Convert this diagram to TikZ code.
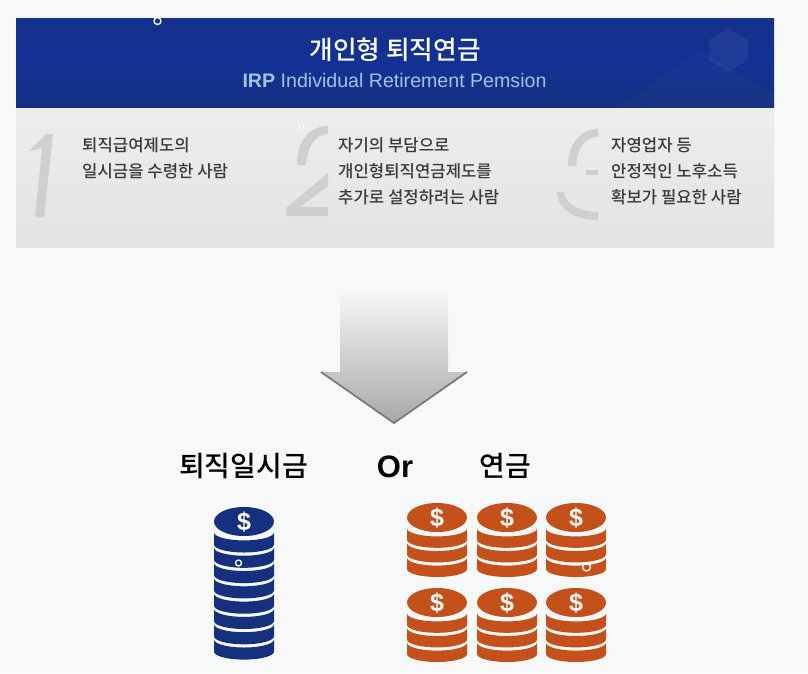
\documentclass[tikz,border=0pt]{standalone}
\usepackage{fontspec}
\setmainfont{Noto Sans CJK KR}
\newfontfamily\krmed{Noto Sans CJK KR Medium}
\newfontfamily\latinf{Liberation Sans}
\definecolor{bgc}{HTML}{F7F8F8}
\definecolor{navyc}{HTML}{14307F}
\definecolor{headtop}{HTML}{15318C}
\definecolor{headmid}{HTML}{123194}
\definecolor{orangec}{HTML}{C4501C}
\definecolor{digitc}{HTML}{CFCFCF}
\definecolor{steptext}{HTML}{3A3A3A}
\definecolor{subc}{HTML}{A5C1E8}
\tikzset{
  steplabel/.style={font=\krmed\fontsize{16.7}{26}\selectfont, text=steptext, align=left, anchor=north west, inner sep=0pt},
  headlabel/.style={font=\krmed\fontsize{28}{28}\selectfont, text=black, inner sep=0pt},
  bigdigit/.style={fill=digitc, draw=none},
  dollar/.style={font=\latinf\bfseries\fontsize{25}{25}\selectfont, text=white, inner sep=0pt},
  marker/.style={circle, draw=white, fill=none, line width=1.3pt, minimum size=7pt, inner sep=0pt}
}
% \coinpile{name}{x}{y of top edge}{last band index}{spacing}{colour}
\newcommand{\coinpile}[6]{%
  \fill[#6] (#2,#3+14.5) ellipse[x radius=30, y radius=14.5];
  \foreach \k in {0,...,#4}{
    \pgfmathsetmacro{\yy}{#3+25.4+\k*#5}
    \pgfmathsetmacro{\yb}{\yy+#5-3.2}
    \fill[#6] (#2-30,\yy)
      arc[start angle=180,end angle=360,x radius=30,y radius=-8]
      -- (#2+30,\yb)
      arc[start angle=0,end angle=-180,x radius=30,y radius=-8]
      -- cycle;
  }
  \node[dollar] (#1) at (#2,#3+15) {\$};
}
\begin{document}
\begin{tikzpicture}[x=1pt,y=-1pt]
\useasboundingbox (0,0) rectangle (808,673);
\fill[bgc] (0,0) rectangle (808,673);
% header
\shade[top color=headtop, bottom color=navyc, middle color=headmid] (16,18) rectangle (774,107);
\fill[white, opacity=.025] (620,107) -- (700,50) -- (774,95) -- (774,107) -- cycle;
\fill[white, opacity=.05] (728,28) -- (748,40) -- (748,60) -- (728,72) -- (709,60) -- (709,40) -- cycle;
% panel
\shade[top color=black!7, bottom color=black!11] (16,108) rectangle (774,247);
% digits
\fill[bigdigit] (29,151) -- (46,134) -- (53,134) -- (44,217) -- (35,217) -- (42,148) -- cycle;
\fill[bigdigit] (297,165) .. controls (297,140) and (310,126) .. (328,126) -- (328,134) .. controls (315,134) and (307,148) .. (306,165) -- cycle;
\fill[bigdigit] (328,173) -- (328,186) -- (300,207) -- (328,207) -- (328,216) -- (286,216) -- (286,208) -- cycle;
\fill[bigdigit] (568,166) .. controls (568,145) and (580,129) .. (598,129) -- (598,137) .. controls (585,137) and (577,148) .. (576,166) -- cycle;
\fill[bigdigit] (586,170) rectangle (598,175);
\fill[bigdigit] (557,192) -- (564,192) .. controls (565,204) and (580,212) .. (598,212) -- (598,220) .. controls (575,220) and (558,210) .. (557,192) -- cycle;
% header text
\node[font=\krmed\fontsize{25.7}{26}\selectfont, text=white, inner sep=0pt] (title) at (395,50) {개인형 퇴직연금};
\node[font=\latinf\fontsize{19.6}{20}\selectfont, text=subc, inner sep=0pt] (subtitle) at (394.5,80) {{\bfseries IRP} Individual Retirement Pemsion};
% step text
\node[steplabel] (s1) at (82,137) {퇴직급여제도의\\일시금을 수령한 사람};
\node[steplabel] (s2) at (338,137) {자기의 부담으로\\개인형퇴직연금제도를\\추가로 설정하려는 사람};
\node[steplabel] (s3) at (611,137) {자영업자 등\\안정적인 노후소득\\확보가 필요한 사람};
% arrow
\shade[top color=bgc, bottom color=black!34, draw=none]
  (340,290) -- (448,290) -- (448,372) -- (467,372) -- (394,423) -- (321,372) -- (340,372) -- cycle;
\draw[black!52, line width=1.8pt, line join=miter] (321,372) -- (394,423) -- (467,372);
% labels
\node[headlabel] (l1) at (243.5,466) {퇴직일시금};
\node[font=\latinf\bfseries\fontsize{31}{31}\selectfont, text=black, inner sep=0pt] (l2) at (395,467) {Or};
\node[headlabel] (l3) at (505.5,466) {연금};
% coins
\coinpile{ca}{244}{507}{7}{15.3}{navyc}
\coinpile{cb}{437}{503}{2}{14.6}{orangec}
\coinpile{cc}{507}{503}{2}{14.6}{orangec}
\coinpile{cd}{576}{503}{2}{14.6}{orangec}
\coinpile{ce}{437}{588}{2}{14.6}{orangec}
\coinpile{cf}{507}{588}{2}{14.6}{orangec}
\coinpile{cg}{576}{588}{2}{14.6}{orangec}
% small rings
\node[marker] (m1) at (157.5,21) {};
\node[marker, minimum size=6pt] (m2) at (238.5,563) {};
\node[marker, minimum size=8pt] (m3) at (586.5,567) {};
\node[marker, minimum size=5pt, line width=.8pt] (m4) at (301.5,126) {};
\end{tikzpicture}
\end{document}
